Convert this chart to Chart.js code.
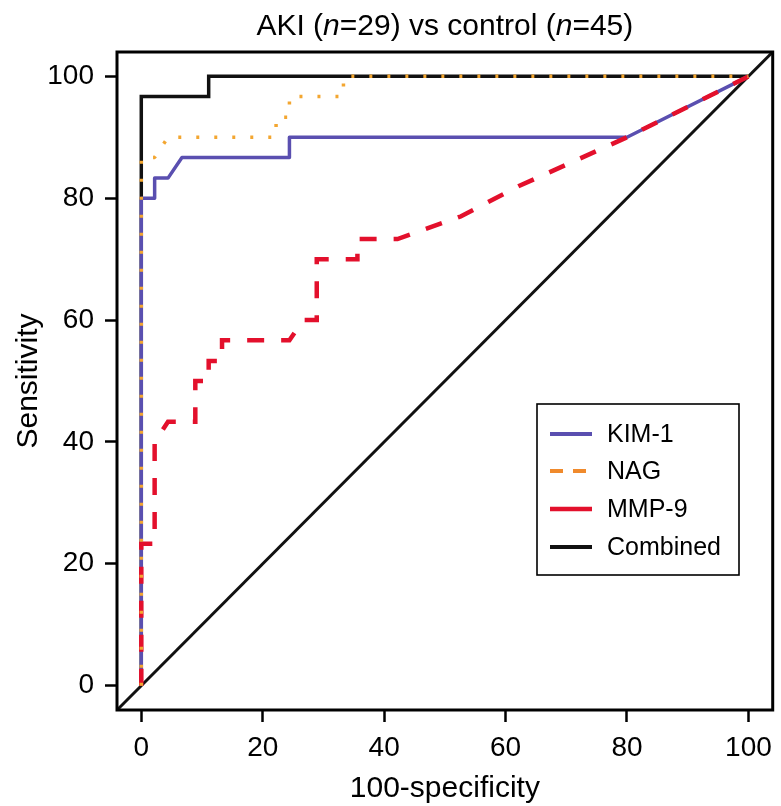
<!DOCTYPE html>
<html>
<head>
<meta charset="utf-8">
<script src="https://cdn.jsdelivr.net/npm/chart.js@4.4.1/dist/chart.umd.min.js"></script>
<style>
html,body{margin:0;padding:0;background:#fff;}
#wrap{width:781px;height:806px;position:relative;}
</style>
</head>
<body>
<div id="wrap"><canvas id="c" width="781" height="806"></canvas></div>
<script>
// ---- data ----
const tickValues = [0, 20, 40, 60, 80, 100];
const seriesNames = ['KIM-1', 'NAG', 'MMP-9', 'Combined'];

const kimX = [0, 0, 2.2, 2.2, 4.4, 6.7, 24.4, 24.4, 80, 100];
const kimY = [0, 80, 80, 83.3, 83.3, 86.7, 86.7, 90, 90, 100];

const nagX = [0, 0, 2.2, 4.4, 22.2, 22.2, 24.4, 24.4, 33.3, 33.3, 100];
const nagY = [0, 86.7, 86.7, 90, 90, 93.3, 93.3, 96.7, 96.7, 100, 100];

const mmpX = [0, 0, 2.2, 2.2, 4.4, 8.9, 8.9, 11.1, 11.1, 13.3, 13.3, 24.4, 26.7, 28.9, 28.9, 35.6, 35.6, 42.2, 52.6, 62.2, 80, 100];
const mmpY = [0, 23.3, 23.3, 40, 43.3, 43.3, 50, 50, 53.3, 53.3, 56.7, 56.7, 60, 60, 70, 70, 73.3, 73.3, 77, 82, 90, 100];

const comX = [0, 0, 11.1, 11.1, 100];
const comY = [0, 96.7, 96.7, 100, 100];

const refX = [-4, 104];
const refY = [-4, 104];

const pts = (xs, ys) => xs.map((x, i) => ({x: x, y: ys[i]}));

const FONT = "'Liberation Sans', Arial, Helvetica, sans-serif";

const titlePlugin = {
  id: 'titleMixed',
  afterDraw(chart) {
    const ctx = chart.ctx;
    const parts = [['AKI (', false], ['n', true], ['=29) vs control (', false], ['n', true], ['=45)', false]];
    const size = 30;
    let total = 0;
    parts.forEach(p => { ctx.font = (p[1] ? 'italic ' : '') + size + 'px ' + FONT; total += ctx.measureText(p[0]).width; });
    const ca = chart.chartArea;
    let x = (ca.left + ca.right) / 2 - total / 2;
    const y = 35;
    ctx.save();
    ctx.fillStyle = '#000';
    ctx.textBaseline = 'alphabetic';
    ctx.textAlign = 'left';
    parts.forEach(p => {
      ctx.font = (p[1] ? 'italic ' : '') + size + 'px ' + FONT;
      ctx.fillText(p[0], x, y);
      x += ctx.measureText(p[0]).width;
    });
    ctx.restore();
  }
};

const boxPlugin = {
  id: 'frameBox',
  afterDatasetsDraw(chart) {
    const ctx = chart.ctx, ca = chart.chartArea;
    ctx.save();
    ctx.strokeStyle = '#000';
    ctx.lineWidth = 3;
    ctx.lineJoin = 'miter';
    ctx.strokeRect(ca.left, ca.top, ca.right - ca.left, ca.bottom - ca.top);
    ctx.restore();
  }
};

const legendPlugin = {
  id: 'boxLegend',
  afterDatasetsDraw(chart) {
    const ctx = chart.ctx;
    const L = 537, T = 404, R = 739, B = 575;
    const rows = [434, 471, 509, 547];
    const styles = [
      {color: '#5a4fb0', dash: [], w: 4},
      {color: '#f08a2c', dash: [13, 10], w: 4},
      {color: '#e3102c', dash: [], w: 4.5},
      {color: '#111111', dash: [], w: 4}
    ];
    ctx.save();
    ctx.fillStyle = '#fff';
    ctx.fillRect(L, T, R - L, B - T);
    ctx.strokeStyle = '#000';
    ctx.lineWidth = 1.6;
    ctx.strokeRect(L, T, R - L, B - T);
    seriesNames.forEach((name, i) => {
      const s = styles[i];
      ctx.beginPath();
      ctx.setLineDash(s.dash);
      ctx.strokeStyle = s.color;
      ctx.lineWidth = s.w;
      ctx.moveTo(550, rows[i]);
      ctx.lineTo(592, rows[i]);
      ctx.stroke();
      ctx.setLineDash([]);
      ctx.fillStyle = '#000';
      ctx.font = '25px ' + FONT;
      ctx.textBaseline = 'middle';
      ctx.textAlign = 'left';
      ctx.fillText(name, 607, rows[i] + 1);
    });
    ctx.restore();
  }
};

const setTicks = axis => { axis.ticks = tickValues.map(v => ({value: v})); };

new Chart(document.getElementById('c'), {
  type: 'scatter',
  data: {
    datasets: [
      {label: 'NAG', data: pts(nagX, nagY), showLine: true, borderColor: '#f3a630', borderWidth: 3.5, borderDash: [3, 15], pointRadius: 0, order: 0, borderJoinStyle: 'round'},
      {label: 'MMP-9', data: pts(mmpX, mmpY), showLine: true, borderColor: '#e3102c', borderWidth: 4.5, borderDash: [17, 17], pointRadius: 0, order: 1},
      {label: 'KIM-1', data: pts(kimX, kimY), showLine: true, borderColor: '#5a4fb0', borderWidth: 3.5, pointRadius: 0, order: 2, borderJoinStyle: 'round'},
      {label: 'Combined', data: pts(comX, comY), showLine: true, borderColor: '#111111', borderWidth: 3.5, pointRadius: 0, order: 3},
      {label: 'ref', data: pts(refX, refY), showLine: true, borderColor: '#111111', borderWidth: 3, pointRadius: 0, order: 4}
    ]
  },
  options: {
    responsive: false,
    animation: false,
    events: [],
    layout: {padding: {left: 0, top: 52, right: 6, bottom: 0}},
    plugins: {legend: {display: false}, tooltip: {enabled: false}, title: {display: false}},
    scales: {
      x: {
        type: 'linear', min: -4, max: 104,
        afterBuildTicks: setTicks,
        afterFit: a => { a.height = 96; },
        grid: {display: true, drawOnChartArea: false, drawTicks: true, tickLength: 12, tickColor: '#000', tickWidth: 2.5},
        border: {display: false},
        ticks: {color: '#000', font: {family: FONT, size: 28}, padding: 9, maxRotation: 0, autoSkip: false},
        title: {display: true, text: '100-specificity', color: '#000', font: {family: FONT, size: 30, lineHeight: 1.1}, padding: {top: 0, bottom: 1}}
      },
      y: {
        type: 'linear', min: -4, max: 104,
        afterBuildTicks: setTicks,
        afterFit: a => { a.width = 117; },
        grid: {display: true, drawOnChartArea: false, drawTicks: true, tickLength: 12, tickColor: '#000', tickWidth: 2.5},
        border: {display: false},
        ticks: {color: '#000', font: {family: FONT, size: 28}, padding: 11, autoSkip: false},
        title: {display: true, text: 'Sensitivity', color: '#000', font: {family: FONT, size: 30, lineHeight: 1.1}, padding: {top: 12, bottom: 0}}
      }
    }
  },
  plugins: [titlePlugin, boxPlugin, legendPlugin]
});
</script>
</body>
</html>
